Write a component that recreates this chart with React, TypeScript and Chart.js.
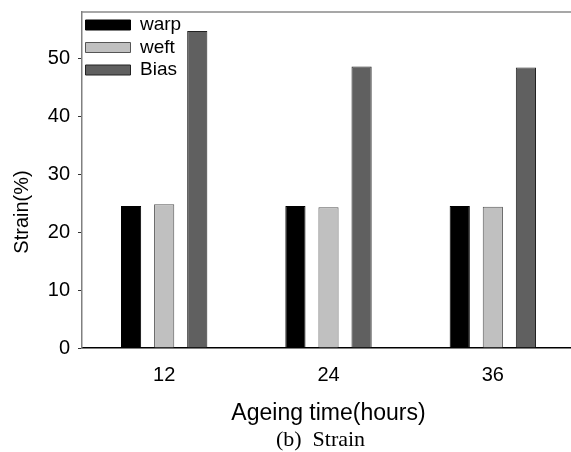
import React, { useEffect, useRef } from "react";
import { Chart, registerables } from "chart.js";

Chart.register(...registerables);

const categories = ["12", "24", "36"];
const warpValues = [24.5, 24.5, 24.5];
const weftValues = [24.8, 24.3, 24.4];
const biasValues = [54.7, 48.6, 48.4];
const yTickValues = [0, 10, 20, 30, 40, 50];

const xTitle = "Ageing time(hours)";
const yTitle = "Strain(%)";
const caption = "(b)  Strain";

const SANS = "Arial, 'Liberation Sans', sans-serif";
const SERIF = "'Times New Roman', 'Liberation Serif', serif";

const decorPlugin = {
  id: "decor",
  afterDraw(chart: any) {
    const { ctx, chartArea } = chart;
    ctx.save();
    ctx.strokeStyle = "#8a8a8a";
    ctx.lineWidth = 1.5;
    ctx.beginPath();
    ctx.moveTo(chartArea.left, chartArea.top);
    ctx.lineTo(chartArea.right, chartArea.top);
    ctx.stroke();
    ctx.fillStyle = "#000";
    ctx.font = `20px ${SANS}`;
    ctx.textAlign = "center";
    ctx.textBaseline = "middle";
    ctx.translate(22, (chartArea.top + chartArea.bottom) / 2 + 32);
    ctx.rotate(-Math.PI / 2);
    ctx.fillText(yTitle, 0, 0);
    ctx.restore();
    ctx.save();
    ctx.fillStyle = "#000";
    ctx.font = `22px ${SERIF}`;
    ctx.textAlign = "center";
    ctx.textBaseline = "middle";
    ctx.fillText(caption, (chartArea.left + chartArea.right) / 2 - 8, 440);
    ctx.restore();
  },
};

export default function App() {
  const ref = useRef<HTMLCanvasElement>(null);
  useEffect(() => {
    if (!ref.current) return;
    const chart = new Chart(ref.current, {
      type: "bar",
      data: {
        labels: categories,
        datasets: [
          { label: "warp", data: warpValues, backgroundColor: "#000000", borderColor: "#000000", borderWidth: 1 },
          { label: "weft", data: weftValues, backgroundColor: "#c0c0c0", borderColor: "#555555", borderWidth: 1 },
          { label: "Bias", data: biasValues, backgroundColor: "#606060", borderColor: "#222222", borderWidth: 1 },
        ],
      },
      options: {
        responsive: false,
        animation: false,
        layout: { padding: { top: 12, left: 0, right: 0, bottom: 0 } },
        datasets: { bar: { categoryPercentage: 0.604, barPercentage: 0.61 } },
        plugins: {
          tooltip: { enabled: false },
          legend: {
            position: "chartArea",
            align: "start",
            title: { display: true, text: "", font: { size: 10, lineHeight: 1.2 }, padding: 0 },
            labels: {
              boxWidth: 45,
              boxHeight: 10,
              padding: 3.5,
              color: "#000",
              font: { size: 19, family: SANS },
            },
          },
        },
        scales: {
          x: {
            offset: true,
            grid: { display: false, drawTicks: false },
            border: { display: true, color: "#000", width: 1.5 },
            ticks: { color: "#000", font: { size: 20, family: SANS }, padding: 15 },
            title: {
              display: true,
              text: xTitle,
              color: "#000",
              font: { size: 23, family: SANS },
              padding: { top: 0, bottom: 25 },
            },
            afterFit(scale: any) {
              scale.height = 104;
            },
          },
          y: {
            min: 0,
            max: 58,
            grid: { display: true, drawOnChartArea: false, drawTicks: true, tickLength: 4, color: "#333" },
            border: { display: true, color: "#808080", width: 1.5 },
            ticks: { stepSize: 10, color: "#000", font: { size: 20, family: SANS }, padding: 8 },
            afterBuildTicks(scale: any) {
              scale.ticks = yTickValues.map((v) => ({ value: v }));
            },
            afterFit(scale: any) {
              scale.width = 82;
              scale.paddingTop = 0;
              scale.paddingBottom = 0;
            },
          },
        },
      },
      plugins: [decorPlugin],
    } as any);
    return () => chart.destroy();
  }, []);
  return (
    <div style={{ position: "fixed", left: 0, top: 0, width: 575, height: 452, background: "#fff" }}>
      <canvas ref={ref} width={575} height={452} style={{ width: 575, height: 452, display: "block" }} />
    </div>
  );
}
